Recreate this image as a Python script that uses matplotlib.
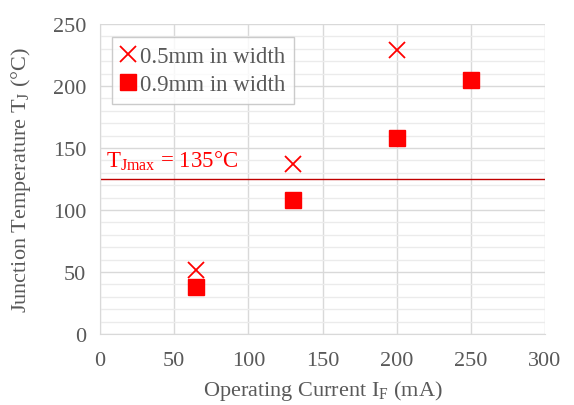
import matplotlib
matplotlib.use("Agg")
import matplotlib.pyplot as plt
from matplotlib.ticker import MultipleLocator

plt.rcParams['font.family'] = ['Liberation Serif', 'DejaVu Serif']
plt.rcParams['mathtext.fontset'] = 'custom'
plt.rcParams['mathtext.rm'] = 'Liberation Serif'

# data
x_05 = [65, 130, 200]
t_05 = [52, 137, 229]
x_09 = [65, 130, 200, 250]
t_09 = [38, 108, 158, 205]
t_limit = 125

gray = '#595959'
fig = plt.figure(figsize=(5.74, 4.06), dpi=100)
ax = fig.add_axes([100/574, 71/406, 445/574, 310/406])

ax.plot(x_05, t_05, 'x', color='red', ms=12, mew=1.3, label='0.5mm in width', zorder=3)
ax.plot(x_09, t_09, 's', color='red', ms=12, label='0.9mm in width', zorder=3)
ax.axhline(t_limit, color='#c00000', lw=1.0, zorder=2)
ax.text(4, t_limit + 6, r'T$_\mathregular{Jmax}$ = 135°C', color='red', fontsize=16.5, va='bottom')

ax.set_xlim(0, 300)
ax.set_ylim(0, 250)
ax.xaxis.set_major_locator(MultipleLocator(50))
ax.yaxis.set_major_locator(MultipleLocator(50))
ax.yaxis.set_minor_locator(MultipleLocator(10))
ax.grid(which='major', color='#d9d9d9', lw=1.0, zorder=0)
ax.grid(which='minor', axis='y', color='#ebebeb', lw=1.0, zorder=0)
ax.set_axisbelow(True)
ax.tick_params(which='both', length=0, labelsize=16, labelcolor=gray)
ax.tick_params(axis='x', pad=12)
ax.tick_params(axis='y', pad=10)
for s in ['top', 'right']:
    ax.spines[s].set_visible(False)
for s in ['left', 'bottom']:
    ax.spines[s].set_color('#d9d9d9')

ax.set_xlabel(r'Operating Current I$_\mathregular{F}$ (mA)', fontsize=16, color=gray, labelpad=6)
ax.set_ylabel(r'Junction Temperature T$_\mathregular{J}$ (°C)', fontsize=16, color=gray, labelpad=14)

leg = ax.legend(loc='upper left', bbox_to_anchor=(0.027, 0.958), fontsize=16.5, frameon=True,
                fancybox=False, edgecolor='#bfbfbf', handlelength=0.6, handletextpad=0.2,
                borderpad=0.4, labelspacing=0.3, borderaxespad=0)
for t in leg.get_texts():
    t.set_color(gray)
leg.get_frame().set_linewidth(1.0)

fig.savefig('out.png', dpi=100)
